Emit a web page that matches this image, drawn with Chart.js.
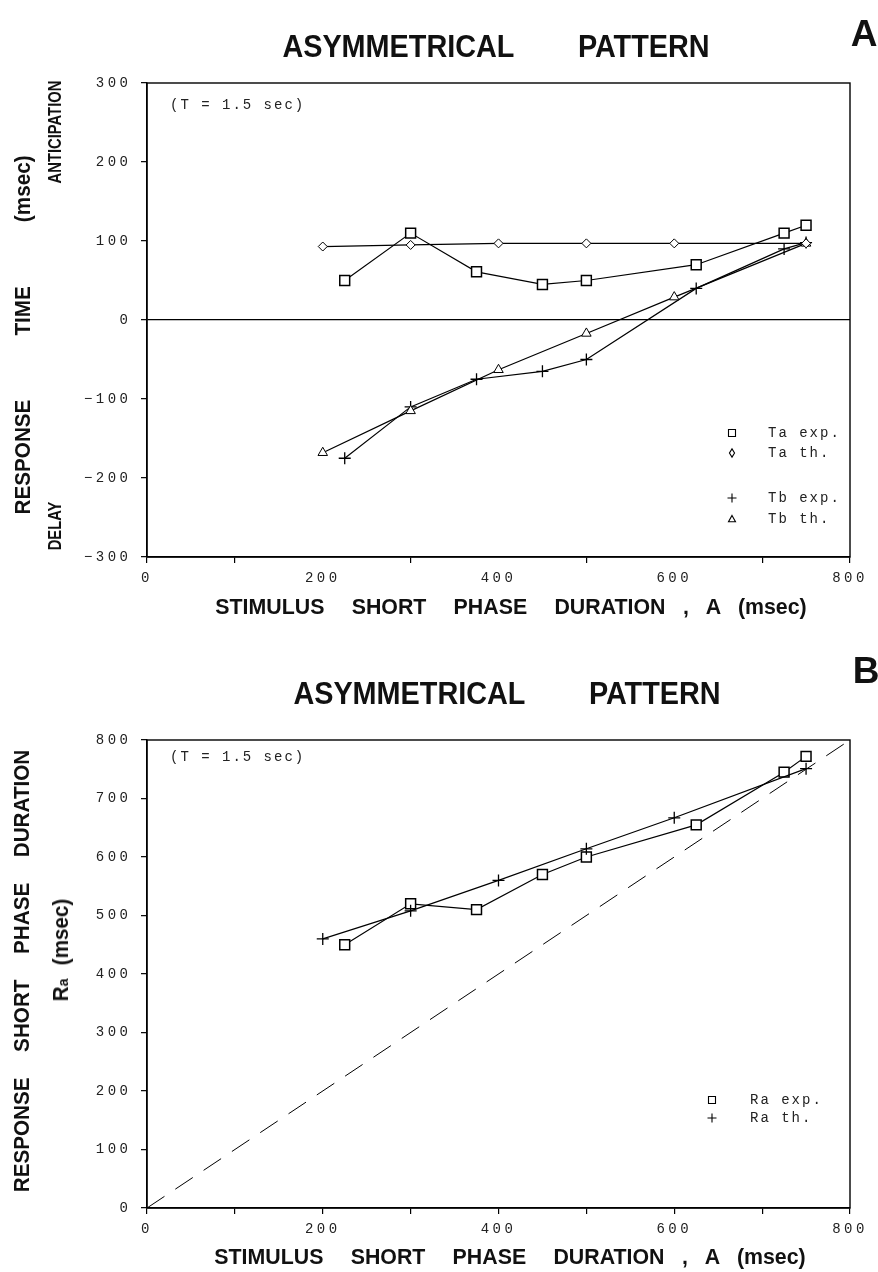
<!DOCTYPE html>
<html>
<head>
<meta charset="utf-8">
<script src="https://cdn.jsdelivr.net/npm/chart.js@4.4.0/dist/chart.umd.min.js"></script>
<style>
  html,body{margin:0;padding:0;background:#fff;}
  #wrap{position:relative;width:878px;height:1272px;overflow:hidden;background:#fff;}
  canvas{position:absolute;left:0;}
  .t{position:absolute;white-space:pre;line-height:1;color:#111;font-family:"Liberation Sans",Arial,sans-serif;}
  .ttl{font-size:32px;font-weight:bold;transform:translate(-50%,-50%) scaleX(0.9);}
  .big{font-size:37px;font-weight:bold;transform:translate(-50%,-50%);}
  .ax{font-size:22px;font-weight:bold;transform:translate(-50%,-50%) scaleX(0.97);word-spacing:22px;}
  .ay{font-size:22px;font-weight:bold;transform:translate(-50%,-50%) rotate(-90deg) scaleX(0.94);}
  .sm{font-size:18px;font-weight:bold;transform:translate(-50%,-50%) rotate(-90deg) scaleX(0.82);}
</style>
</head>
<body>
<div id="wrap">
  <canvas id="c1" width="878" height="636" style="top:0"></canvas>
  <canvas id="c2" width="878" height="636" style="top:636px"></canvas>

  <div class="t ttl" style="left:496px;top:46px">ASYMMETRICAL        PATTERN</div>
  <div class="t big" style="left:864px;top:33px">A</div>
  <div class="t ay" style="left:23px;top:335px;word-spacing:62px">RESPONSE TIME (msec)</div>
  <div class="t sm" style="left:55px;top:132px">ANTICIPATION</div>
  <div class="t sm" style="left:55px;top:526px">DELAY</div>
  <div class="t ax" style="left:511px;top:607px">STIMULUS SHORT PHASE DURATION<span style="word-spacing:12px"> , A (msec)</span></div>

  <div class="t ttl" style="left:507px;top:693px">ASYMMETRICAL        PATTERN</div>
  <div class="t big" style="left:866px;top:670px">B</div>
  <div class="t ay" style="left:22px;top:971px;word-spacing:21px">RESPONSE SHORT PHASE DURATION</div>
  <div class="t ay" style="left:61px;top:950px;word-spacing:8px">R<span style="font-size:15px">a</span> (msec)</div>
  <div class="t ax" style="left:510px;top:1257px">STIMULUS SHORT PHASE DURATION<span style="word-spacing:12px"> , A (msec)</span></div>
</div>
<script>
// ---------- data ----------
// Panel A
const taExpX = [225, 300, 375, 450, 500, 625, 725, 750];
const taExpY = [50, 110, 61, 45, 50, 70, 110, 120];
const taThX  = [200, 300, 400, 500, 600, 750];
const taThY  = [93, 95, 97, 97, 97, 97];
const tbExpX = [225, 300, 375, 450, 500, 625, 725, 750];
const tbExpY = [-175, -110, -75, -65, -50, 40, 90, 98];
const tbThX  = [200, 300, 400, 500, 600, 750];
const tbThY  = [-168, -115, -63, -17, 29, 97];
// Panel B
const raExpX = [225, 300, 375, 450, 500, 625, 725, 750];
const raExpY = [450, 520, 510, 570, 600, 655, 745, 772];
const raThX  = [200, 300, 400, 500, 600, 750];
const raThY  = [460, 508, 560, 614, 667, 751];
const diagX  = [0, 800];
const diagY  = [0, 800];
// axes
const xTickMarks = [0, 100, 200, 300, 400, 500, 600, 700, 800];
const xTicks = [0, 200, 400, 600, 800];
const yTicksA = [-300, -200, -100, 0, 100, 200, 300];
const yTicksB = [0, 100, 200, 300, 400, 500, 600, 700, 800];
// texts
const noteText = '(T = 1.5 sec)';
const legendA = ['Ta exp.', 'Ta th.', 'Tb exp.', 'Tb th.'];
const legendB = ['Ra exp.', 'Ra th.'];

const pts = (xs, ys) => xs.map((x, i) => ({x: x, y: ys[i]}));

const TICK_FONT = {family: '"Liberation Mono", "DejaVu Sans Mono", monospace', size: 14};

function drawSym(ctx, style, x, y, r) {
  ctx.save();
  ctx.strokeStyle = '#000'; ctx.fillStyle = '#fff'; ctx.lineWidth = 1.1;
  ctx.beginPath();
  if (style === 'rect') { ctx.rect(x - r, y - r, 2 * r, 2 * r); ctx.fill(); ctx.stroke(); }
  else if (style === 'rectRot') { ctx.moveTo(x, y - r * 1.3); ctx.lineTo(x + r * 0.8, y); ctx.lineTo(x, y + r * 1.3); ctx.lineTo(x - r * 0.8, y); ctx.closePath(); ctx.fill(); ctx.stroke(); }
  else if (style === 'cross') { ctx.moveTo(x - r, y); ctx.lineTo(x + r, y); ctx.moveTo(x, y - r); ctx.lineTo(x, y + r); ctx.stroke(); }
  else if (style === 'triangle') { ctx.moveTo(x, y - r); ctx.lineTo(x + r, y + r * 0.8); ctx.lineTo(x - r, y + r * 0.8); ctx.closePath(); ctx.fill(); ctx.stroke(); }
  ctx.restore();
}

const annPlugin = {
  id: 'ann',
  beforeUpdate(chart) { chart.ctx.letterSpacing = '3.5px'; },
  beforeDraw(chart) { chart.ctx.letterSpacing = '3.5px'; },
  beforeDatasetsDraw(chart) {
    const ctx = chart.ctx, a = chart.chartArea;
    ctx.save();
    ctx.strokeStyle = '#000'; ctx.lineWidth = 1.4;
    ctx.strokeRect(a.left, a.top, a.right - a.left, a.bottom - a.top);
    ctx.restore();
  },
  afterDatasetsDraw(chart, args, opts) {
    const ctx = chart.ctx, a = chart.chartArea;
    ctx.save();
    ctx.letterSpacing = '2px';
    ctx.font = '14px "Liberation Mono", "DejaVu Sans Mono", monospace';
    ctx.fillStyle = '#222';
    ctx.textBaseline = 'middle';
    ctx.textAlign = 'left';
    ctx.fillText(noteText, a.left + opts.noteDx, a.top + opts.noteDy);
    opts.items.forEach(it => {
      drawSym(ctx, it.style, opts.symX, it.y, it.r);
      ctx.fillStyle = '#222';
      ctx.fillText(it.text, opts.textX, it.y);
    });
    ctx.restore();
  }
};

function baseScales(yMin, yMax, yTicks, xHeight, yFmt, oddTicksOnly) {
  return {
    x: {
      type: 'linear', min: 0, max: 800,
      afterFit: s => { s.height = xHeight; },
      afterBuildTicks: s => { s.ticks = xTickMarks.map(v => ({value: v})); },
      ticks: {
        autoSkip: false, maxRotation: 0, padding: 6.5, color: '#222', font: TICK_FONT,
        callback: v => (xTicks.indexOf(v) >= 0 ? String(v) : '')
      },
      grid: {
        drawOnChartArea: false, drawTicks: true, tickLength: 6, lineWidth: 1.2,
        color: c => {
          const v = c.tick ? c.tick.value : 0;
          if (!oddTicksOnly) return '#000';
          return (v % 200 === 100 || v === 0 || v === 800) ? '#000' : 'rgba(0,0,0,0)';
        }
      },
      border: {display: true, color: '#000', width: 1.4}
    },
    y: {
      type: 'linear', min: yMin, max: yMax,
      afterFit: s => { s.width = 147; },
      afterBuildTicks: s => { s.ticks = yTicks.map(v => ({value: v})); },
      ticks: {autoSkip: false, padding: 9.5, color: '#222', font: TICK_FONT, callback: yFmt},
      grid: {
        drawOnChartArea: true, drawTicks: true, tickLength: 6, tickColor: '#000', tickWidth: 1.2,
        color: c => (c.tick && c.tick.value === 0 && yMin < 0) ? '#000' : 'rgba(0,0,0,0)',
        lineWidth: 1.3
      },
      border: {display: true, color: '#000', width: 1.4}
    }
  };
}

const lineDs = (label, data, style, r, bw) => ({
  label: label, data: data, showLine: true, tension: 0,
  borderColor: '#000', borderWidth: 1.2,
  pointStyle: style, pointRadius: r, pointHoverRadius: r,
  pointBackgroundColor: '#fff', pointBorderColor: '#000', pointBorderWidth: bw
});

const fmtA = v => (v < 0 ? '\u2212' + Math.abs(v) : String(v));

new Chart(document.getElementById('c1'), {
  type: 'scatter',
  data: {
    datasets: [
      lineDs(legendA[1], pts(taThX, taThY), 'rectRot', 4.5, 1),
      lineDs(legendA[3], pts(tbThX, tbThY), 'triangle', 5.5, 1),
      lineDs(legendA[2], pts(tbExpX, tbExpY), 'cross', 6, 1.3),
      lineDs(legendA[0], pts(taExpX, taExpY), 'rect', 7, 1.5)
    ]
  },
  options: {
    responsive: false, animation: false, events: [],
    layout: {padding: {top: 83, right: 28, left: 0, bottom: 0}},
    scales: baseScales(-300, 300, yTicksA, 79, fmtA, true),
    plugins: {
      legend: {display: false}, tooltip: {enabled: false},
      ann: {
        noteDx: 23, noteDy: 22, symX: 732, textX: 768,
        items: [
          {style: 'rect', r: 3.5, y: 433, text: legendA[0]},
          {style: 'rectRot', r: 3.2, y: 453, text: legendA[1]},
          {style: 'cross', r: 4.5, y: 498, text: legendA[2]},
          {style: 'triangle', r: 3.5, y: 519, text: legendA[3]}
        ]
      }
    }
  },
  plugins: [annPlugin]
});

new Chart(document.getElementById('c2'), {
  type: 'scatter',
  data: {
    datasets: [
      {label: 'A = Ra', data: pts(diagX, diagY), showLine: true, borderColor: '#000', borderWidth: 1,
       borderDash: [21, 13], pointRadius: 0, tension: 0},
      lineDs(legendB[1], pts(raThX, raThY), 'cross', 6, 1.3),
      lineDs(legendB[0], pts(raExpX, raExpY), 'rect', 7, 1.5)
    ]
  },
  options: {
    responsive: false, animation: false, events: [],
    layout: {padding: {top: 104, right: 28, left: 0, bottom: 0}},
    scales: baseScales(0, 800, yTicksB, 64, v => String(v), false),
    plugins: {
      legend: {display: false}, tooltip: {enabled: false},
      ann: {
        noteDx: 23, noteDy: 17, symX: 712, textX: 750,
        items: [
          {style: 'rect', r: 3.5, y: 464, text: legendB[0]},
          {style: 'cross', r: 4.5, y: 482, text: legendB[1]}
        ]
      }
    }
  },
  plugins: [annPlugin]
});
</script>
</body>
</html>
